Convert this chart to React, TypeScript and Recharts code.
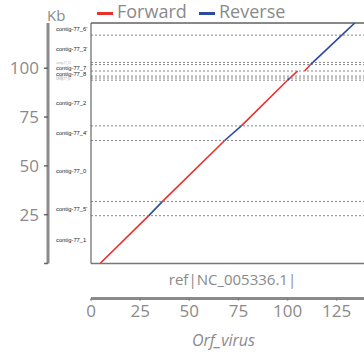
import { LineChart, Line, XAxis, YAxis, ReferenceLine, Legend } from 'recharts';

const X_MAX = 138.9;
const Y_MAX = 123.2;
const KB_TOP = 120.6;

const KB_TICKS = [0, 25, 50, 75, 100];
const X_TICKS = [0, 25, 50, 75, 100, 125];

// contigs stacked along y (kb), bottom to top
const CONTIG_NAMES = [
  'contig-77_1', "contig-77_5'", 'contig-77_0', "contig-77_4'", 'contig-77_2',
  "contig-77_10'", 'contig-77_9', 'contig-77_8', 'contig-77_7', "contig-77_11'",
  "contig-77_3'", "contig-77_6'",
];
const CONTIG_STARTS = [0, 24.5, 31.8, 63.0, 70.5, 93.9, 95.0, 96.0, 98.6, 101.9, 103.0, 117.0];
const CONTIG_ENDS = [24.5, 31.8, 63.0, 70.5, 93.9, 95.0, 96.0, 98.6, 101.9, 103.0, 117.0, 123.2];

// alignments: ref position (x) against contig position (y), kb
const FWD_X1 = [4.6, 36.4, 76.5, 101.2, 102.3, 108.7];
const FWD_X2 = [29.4, 68.0, 100.0, 102.3, 105.1, 111.7];
const FWD_Y1 = [0, 31.8, 70.5, 95.0, 96.0, 98.6];
const FWD_Y2 = [24.5, 63.0, 93.9, 96.0, 98.6, 101.9];

const REV_X1 = [29.4, 68.0, 100.0, 111.7, 112.9, 127.6];
const REV_X2 = [36.4, 76.5, 101.2, 112.9, 127.6, 134.2];
const REV_Y1 = [24.5, 63.0, 93.9, 101.9, 103.0, 117.0];
const REV_Y2 = [31.8, 70.5, 95.0, 103.0, 117.0, 123.2];

const RED = '#e8302c';
const BLUE = '#2b4b9d';
const GREY = '#8a8a8a';
const FONT = '"Open Sans", sans-serif';

const fwdSegs = FWD_X1.map((x, i) => [
  { x, y: FWD_Y1[i] },
  { x: FWD_X2[i], y: FWD_Y2[i] },
]);
const revSegs = REV_X1.map((x, i) => [
  { x, y: REV_Y1[i] },
  { x: REV_X2[i], y: REV_Y2[i] },
]);
const contigMids = CONTIG_STARTS.map((s, i) => (s + CONTIG_ENDS[i]) / 2);
const boundaries = CONTIG_ENDS.slice(0, -1);

function ContigTick(props: any) {
  const { x, y, index } = props;
  const small = CONTIG_ENDS[index] - CONTIG_STARTS[index] < 2;
  return (
    <text
      x={x - 35}
      y={y}
      dy="0.35em"
      fontSize={small ? 2.6 : 5.8}
      fill={small ? '#aaa' : '#222'}
      fontFamily='"Liberation Sans", Arial, sans-serif'
    >
      {CONTIG_NAMES[index]}
    </text>
  );
}

function renderLegend() {
  const item = (left: number, color: string, text: string) => (
    <>
      <div style={{ position: 'absolute', left, top: 12, width: 16, height: 2.5, background: color }} />
      <span style={{ position: 'absolute', left: left + 20, top: -1, fontSize: 18, color: GREY, fontFamily: FONT, lineHeight: '24px' }}>
        {text}
      </span>
    </>
  );
  return (
    <div style={{ position: 'relative', height: 20 }}>
      {item(97, RED, 'Forward')}
      {item(199, BLUE, 'Reverse')}
    </div>
  );
}

export default function App() {
  return (
    <>
      <style>{'body{margin:0}'}</style>
      <LineChart width={364} height={352} margin={{ top: 3, right: 0, bottom: 0, left: 0 }}>
        <Legend verticalAlign="top" align="left" height={20} content={renderLegend} wrapperStyle={{ left: 0, top: 0, width: 364 }} />
        <XAxis
          xAxisId="b_orf"
          type="number"
          dataKey="x"
          domain={[0, X_MAX]}
          allowDataOverflow
          ticks={X_TICKS}
          interval={0}
          height={53.5}
          axisLine={{ stroke: GREY, strokeWidth: 3 }}
          tickLine={{ stroke: '#777', strokeWidth: 1.5 }}
          tickSize={2}
          tickMargin={4}
          tick={{ fill: GREY, fontSize: 17, fontFamily: FONT }}
          label={(p: any) => (
            <text x={p.viewBox.x + p.viewBox.width / 2 - 4} y={p.viewBox.y + 47.5} textAnchor="middle" fontSize={16} fontStyle="italic" fill={GREY} fontFamily={FONT}>
              Orf_virus
            </text>
          )}
        />
        <XAxis
          xAxisId="a_ref"
          type="number"
          dataKey="x"
          domain={[0, X_MAX]}
          allowDataOverflow
          height={35}
          axisLine={{ stroke: '#777', strokeWidth: 1.5 }}
          tick={false}
          tickLine={false}
          label={(p: any) => (
            <text x={p.viewBox.x + p.viewBox.width / 2 + 5} y={p.viewBox.y + 21} textAnchor="middle" fontSize={15} fill={GREY} fontFamily={FONT}>
              ref|NC_005336.1|
            </text>
          )}
        />
        <YAxis
          yAxisId="contig"
          type="number"
          domain={[0, Y_MAX]}
          allowDataOverflow
          ticks={contigMids}
          interval={0}
          width={43}
          axisLine={{ stroke: '#666', strokeWidth: 1.2 }}
          tickLine={false}
          tickSize={0}
          tickMargin={0}
          tick={<ContigTick />}
        />
        <YAxis
          yAxisId="kb"
          type="number"
          domain={[0, KB_TOP]}
          allowDataOverflow
          ticks={KB_TICKS}
          interval={0}
          padding={{ top: 5, bottom: 0 }}
          width={48}
          axisLine={{ stroke: GREY, strokeWidth: 3 }}
          tickLine={{ stroke: '#666', strokeWidth: 1.5 }}
          tickSize={4}
          tickMargin={5}
          tick={{ fill: GREY, fontSize: 17, fontFamily: FONT }}
          tickFormatter={(v: number) => (v === 0 ? '' : String(v))}
          label={(p: any) => (
            <text x={p.viewBox.x + p.viewBox.width - 1} y={p.viewBox.y - 2} fontSize={15} fill={GREY} fontFamily={FONT}>
              Kb
            </text>
          )}
        />
        {boundaries.map((b, i) => (
          <ReferenceLine key={'b' + i} xAxisId="b_orf" yAxisId="contig" y={b} stroke="#888" strokeDasharray="2 2" strokeWidth={1} />
        ))}
        <ReferenceLine xAxisId="b_orf" yAxisId="contig" y={Y_MAX} stroke="#888" strokeWidth={2} />
        {fwdSegs.map((d, i) => (
          <Line key={'f' + i} xAxisId="b_orf" yAxisId="contig" data={d} dataKey="y" stroke={RED} strokeWidth={1.6} dot={false} isAnimationActive={false} legendType="none" />
        ))}
        {revSegs.map((d, i) => (
          <Line key={'r' + i} xAxisId="b_orf" yAxisId="contig" data={d} dataKey="y" stroke={BLUE} strokeWidth={1.6} dot={false} isAnimationActive={false} legendType="none" />
        ))}
      </LineChart>
    </>
  );
}
